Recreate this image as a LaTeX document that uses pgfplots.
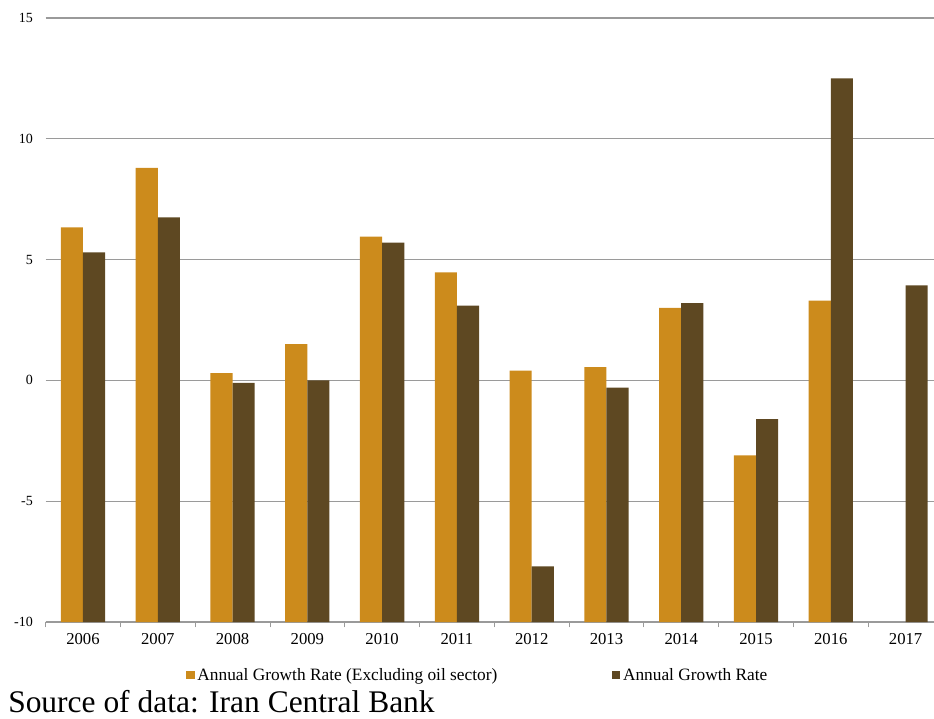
\documentclass[border=0pt]{standalone}
\usepackage{fontspec}
\setmainfont{Liberation Serif}
\usepackage{pgfplots}
\pgfplotsset{compat=1.18}
\definecolor{barorange}{HTML}{CC8B1C}
\definecolor{barbrown}{HTML}{5E4822}
\definecolor{gridgray}{HTML}{9A9A9A}
\begin{document}
\begin{tikzpicture}
\useasboundingbox (-34.2pt,-72pt) rectangle (666.3pt,466.5pt);
\begin{axis}[
  at={(0,0)}, anchor=south west,
  scale only axis,
  width=666.3pt, height=453pt,
  ybar=0pt, bar width=16.6pt,
  xmin=-0.5, xmax=11.38,
  ymin=0, ymax=25,
  y filter/.expression={y+10},
  ytick={0,5,10,15,20,25},
  yticklabels={-10,-5,0,5,10,15},
  ymajorgrids,
  grid style={gridgray, line width=0.8pt},
  axis y line*=left,
  y axis line style={draw=none},
  major y tick style={draw=none},
  axis x line*=bottom,
  x axis line style={gridgray, line width=0.8pt},
  xtick={-0.5,0.5,...,10.5},
  xticklabels={},
  extra x ticks={0,1,2,3,4,5,6,7,8,9,10,11},
  extra x tick labels={2006,2007,2008,2009,2010,2011,2012,2013,2014,2015,2016,2017},
  extra x tick style={major tick length=0pt, grid=none},
  major x tick style={gridgray, line width=0.6pt},
  x tick style={gridgray},
  tick align=outside,
  major tick length=4pt,
  x tick label style={font=\fontsize{12.5}{14}\selectfont, yshift=-5pt},
  y tick label style={font=\fontsize{10.5}{12}\selectfont, xshift=-2pt},
  /pgf/number format/assume math mode=true,
  enlarge x limits=false,
  legend columns=2,
  legend style={draw=none, fill=none, at={(0.487,-0.088)}, anchor=center,
    font=\fontsize{13}{15}\selectfont, /tikz/every even column/.append style={column sep=84pt}},
  legend image code/.code={\fill[#1] (0cm,-0.1cm) rectangle (0.22cm,0.12cm);},
  clip=false,
]
\addplot[fill=barorange, draw=none] coordinates {
 (0,6.33) (1,8.8) (2,0.3) (3,1.5) (4,5.95) (5,4.47) (6,0.4) (7,0.55) (8,3.0) (9,-3.1) (10,3.3)
};
\addlegendentry{Annual Growth Rate (Excluding oil sector)}
\addplot[fill=barbrown, draw=none] coordinates {
 (0,5.3) (1,6.75) (2,-0.1) (3,0.0) (4,5.7) (5,3.1) (6,-7.7) (7,-0.3) (8,3.2) (9,-1.6) (10,12.5) (11,3.93)
};
\addlegendentry{Annual Growth Rate}
\end{axis}
\node[anchor=base west, inner sep=0pt, font=\fontsize{23.6}{26}\selectfont] at (-28.2pt,-67.5pt) {Source of data: Iran Central Bank};
\end{tikzpicture}
\end{document}
